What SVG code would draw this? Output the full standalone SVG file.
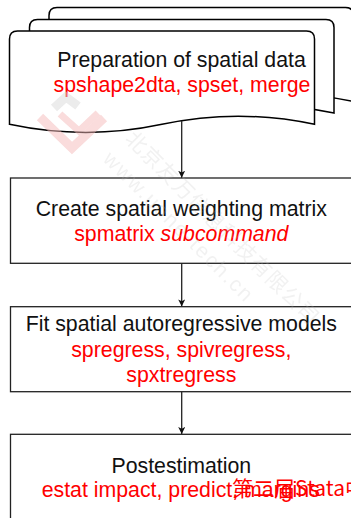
<svg xmlns="http://www.w3.org/2000/svg" width="351" height="518" viewBox="0 0 351 518">
  <style>
    .doc { fill: #ffffff; stroke: #000000; stroke-width: 1.5; }
    .box { fill: #ffffff; stroke: #222222; stroke-width: 1.3; }
    .t { font-family: "Liberation Sans", Arial, sans-serif; font-size: 21.3px; text-anchor: middle; }
    .k { fill: #111111; }
    .r { fill: #ff0000; }
    .edge { stroke: #222222; stroke-width: 1.3; fill: none; }
    .wm { font-family: "Noto Sans CJK SC", "Liberation Sans", sans-serif; font-size: 21px; fill: #bbbbbb; fill-opacity: 0.4; }
  </style>
  <defs>
    <marker id="arrow" viewBox="0 0 10 10" refX="10" refY="5" markerWidth="7" markerHeight="7" markerUnits="userSpaceOnUse" orient="auto">
      <path d="M0,0 L10,5 L0,10 L2.5,5 Z" fill="#111111"/>
    </marker>
  </defs>
  <rect width="351" height="518" fill="#ffffff"/>

  <g id="node-prep">
    <path class="doc" d="M49,101.5 V15.5 Q49,7.5 57,7.5 H345.5 Q353.5,7.5 353.5,15.5 V101.5 Q277.4,85.3 201.2,101.5 Q125.1,117.7 49,101.5 Z"/>
    <path class="doc" d="M29.5,113 V27.5 Q29.5,19.5 37.5,19.5 H326 Q334,19.5 334,27.5 V113 Q257.9,96.8 181.8,113 Q105.6,129.2 29.5,113 Z"/>
    <path class="doc" d="M9.5,124.3 V39 Q9.5,31 17.5,31 H306.5 Q314.5,31 314.5,39 V124.3 Q238.3,108.1 162,124.3 Q85.8,140.5 9.5,124.3 Z"/>
    <text class="t k" x="181.5" y="66.7">Preparation of spatial data</text>
    <text class="t r" x="182" y="91.7">spshape2dta, spset, merge</text>
  </g>

  <g id="node-matrix">
    <rect class="box" x="10.5" y="178" width="342" height="85.3"/>
    <text class="t k" x="181.3" y="216">Create spatial weighting matrix</text>
    <text class="t r" x="181.3" y="241">spmatrix <tspan font-style="italic">subcommand</tspan></text>
  </g>

  <g id="node-fit">
    <rect class="box" x="10.5" y="306.7" width="342" height="85"/>
    <text class="t k" x="181.3" y="331">Fit spatial autoregressive models</text>
    <text class="t r" x="181.3" y="356.7">spregress, spivregress,</text>
    <text class="t r" x="181.3" y="381.7">spxtregress</text>
  </g>

  <g id="node-post">
    <rect class="box" x="10.5" y="434.3" width="342" height="100"/>
    <text class="t k" x="181.3" y="472.7">Postestimation</text>
    <text class="t r" x="41.7" y="497.3" style="text-anchor:start">estat impact, predict, margins</text>
    <text x="232" y="495.5" style="font-family:'Noto Sans CJK SC','Liberation Sans',sans-serif;font-size:21px;fill:#ff0000">第二届Stata中</text>
  </g>

  <g id="connectors">
    <line class="edge" x1="181.7" y1="120.7" x2="181.7" y2="177.7" marker-end="url(#arrow)"/>
    <line class="edge" x1="181.7" y1="263.3" x2="181.7" y2="306.4" marker-end="url(#arrow)"/>
    <line class="edge" x1="181.7" y1="391.7" x2="181.7" y2="434" marker-end="url(#arrow)"/>
  </g>

  <g id="watermark" opacity="0.5">
    <polyline points="54,108 66,97 78,106" fill="none" stroke="#d8d8d8" stroke-width="9"/>
    <polyline points="40,117 72,148 104,118" fill="none" stroke="#f4b8b8" stroke-width="9"/>
    <polyline points="60,114 79,131 98,113" fill="none" stroke="#f4b8b8" stroke-width="7"/>
    <text class="wm" transform="translate(124,140) rotate(45)" style="letter-spacing:1px">北京友万信息科技有限公司</text>
    <text class="wm" transform="translate(102,160) rotate(45)" style="font-family:'Liberation Sans',sans-serif;font-size:21px;letter-spacing:2px">www.uone-tech.cn</text>
  </g>
</svg>
